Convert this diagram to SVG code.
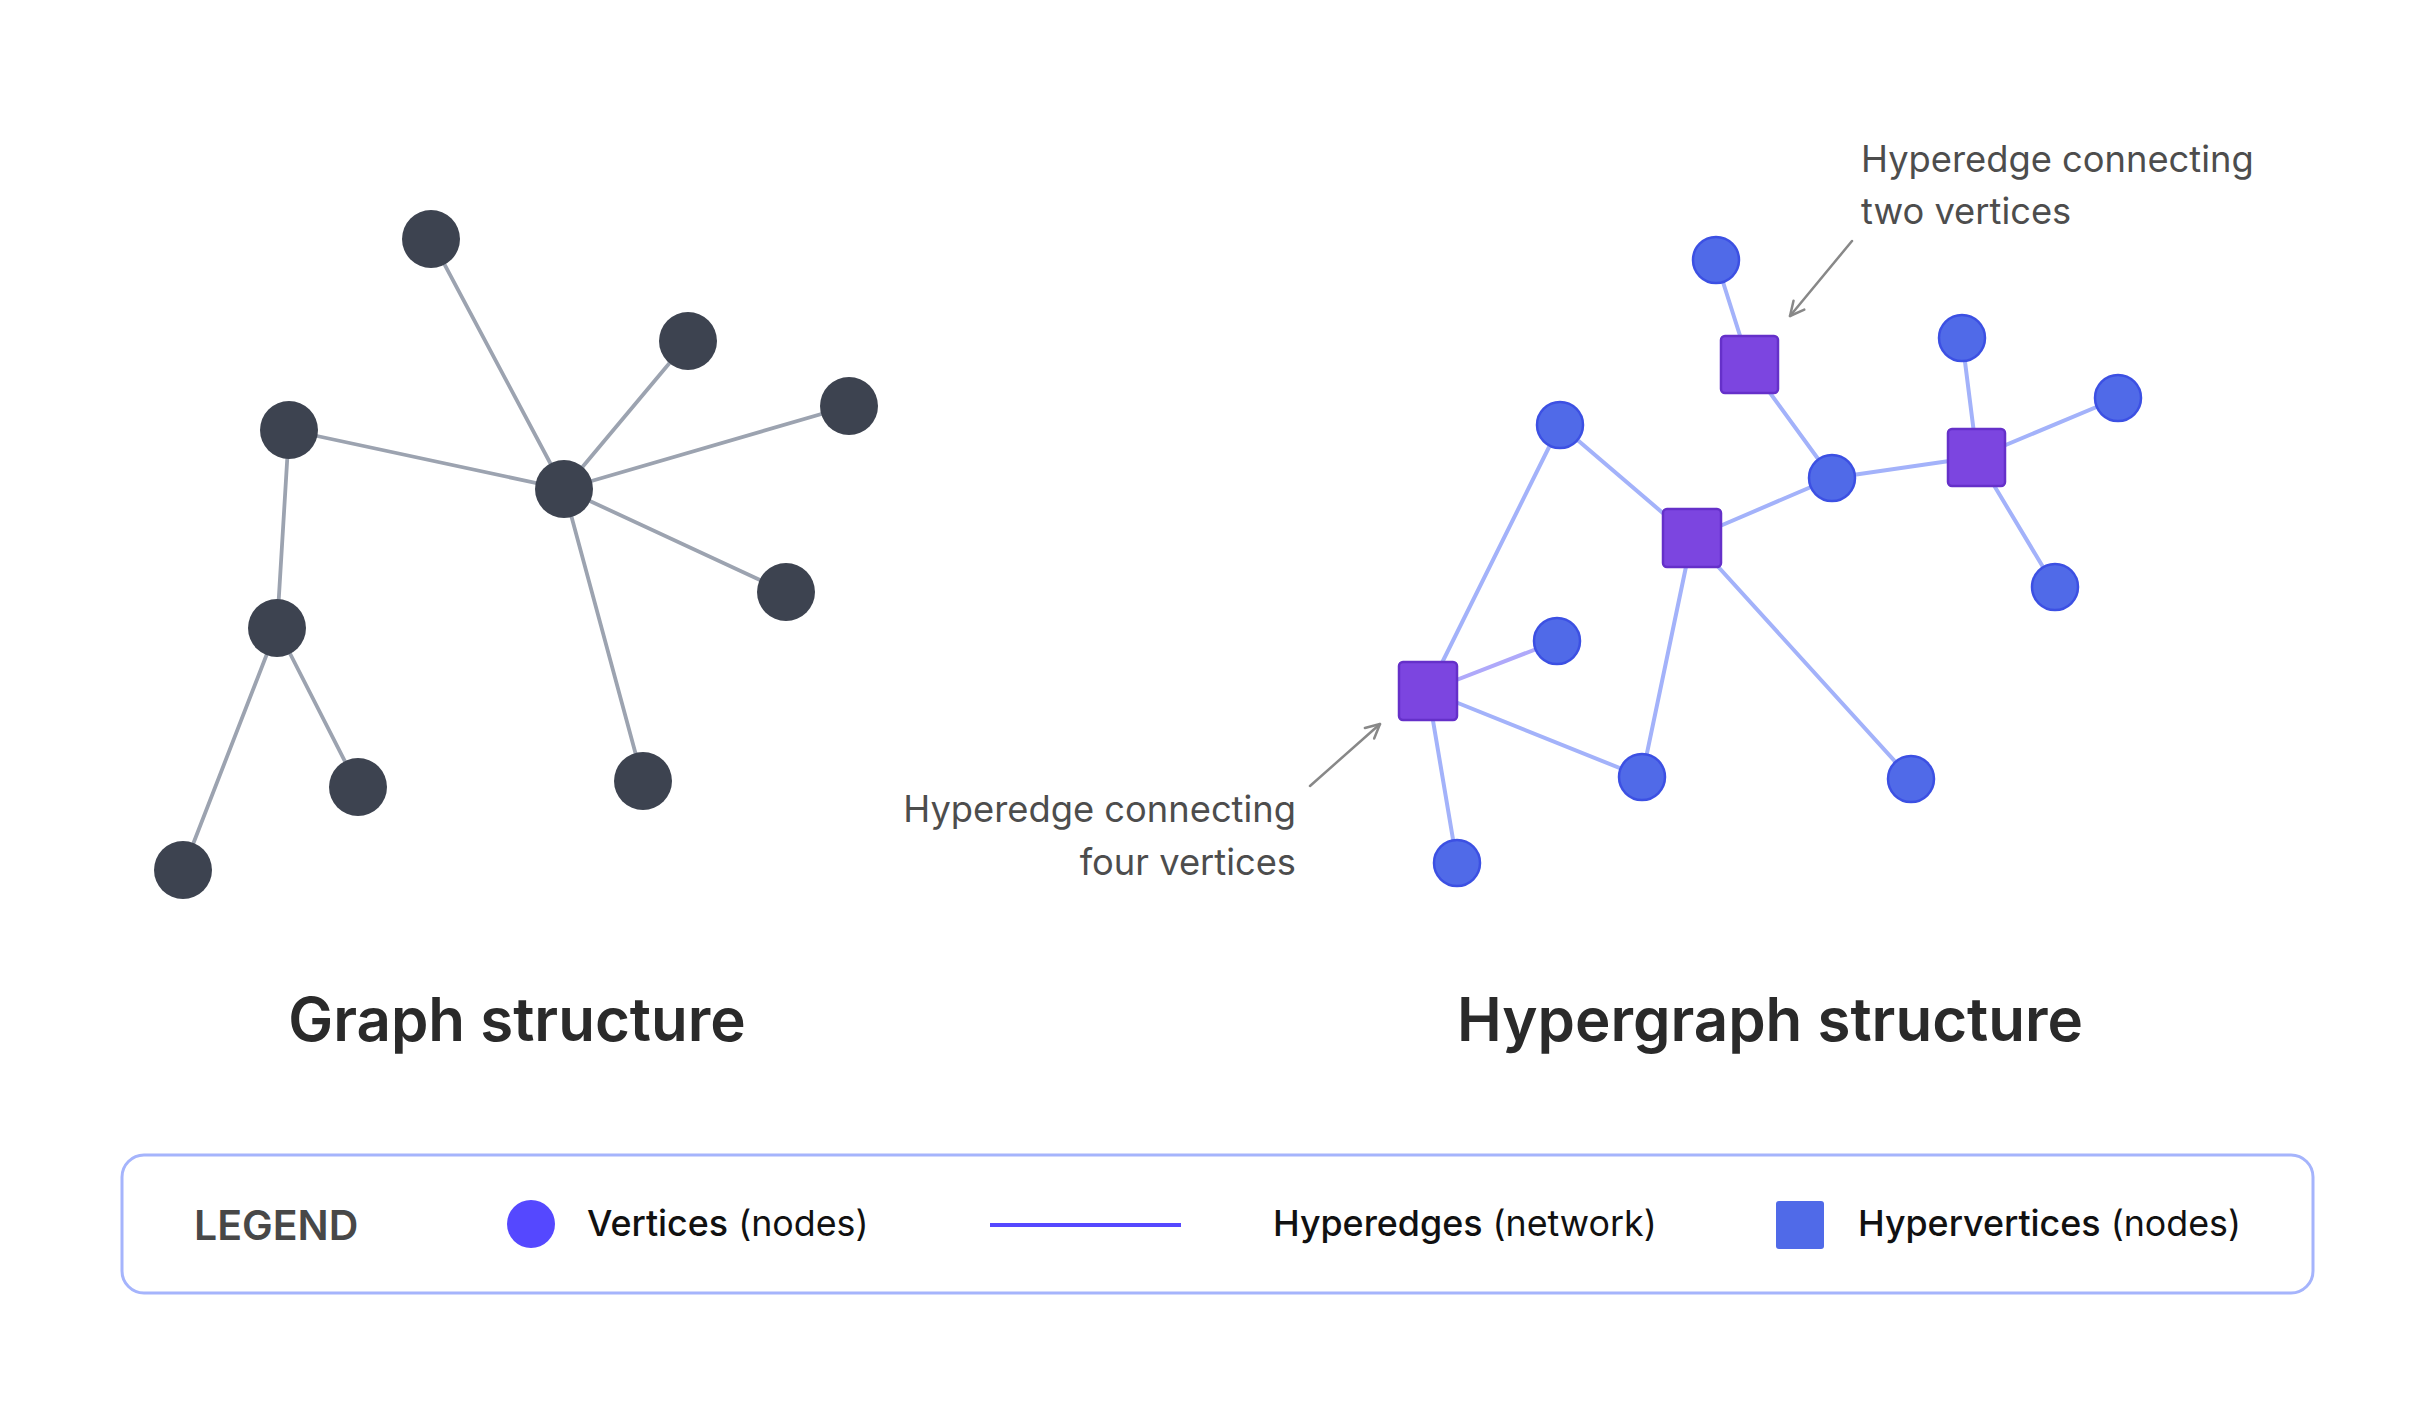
<svg xmlns="http://www.w3.org/2000/svg" width="2436" height="1428" viewBox="0 0 2436 1428">
<defs>
<style>
.gedge{stroke:#9ca3b0;stroke-width:3.8;stroke-linecap:round;fill:none}
.gnode{fill:#3d4350}
.hedge{stroke:#a3b2fa;stroke-width:4;stroke-linecap:round;fill:none}
.vert{fill:#506ae8;stroke:#3c50e3;stroke-width:2.5}
.hv{fill:#7c45e0;stroke:#6530c9;stroke-width:2.5}
.note{font-family:Inter,"Liberation Sans",sans-serif;font-size:36.3px;fill:#4d4d4d}
.title{font-family:Inter,"Liberation Sans",sans-serif;font-size:60px;font-weight:600;fill:#2a2a2a}
.leg{font-family:Inter,"Liberation Sans",sans-serif;font-size:35.8px;fill:#111111}
.arrow{stroke:#888888;stroke-width:2.5;fill:none;stroke-linecap:round;stroke-linejoin:round}
</style>
<marker id="ah" viewBox="0 0 20 20" refX="18" refY="10" markerWidth="20" markerHeight="20" markerUnits="userSpaceOnUse" orient="auto">
<path d="M4,3 L18,10 L4,17" fill="none" stroke="#888888" stroke-width="2.5" stroke-linecap="round" stroke-linejoin="round"/>
</marker>
</defs>
<rect width="2436" height="1428" fill="#ffffff"/>

<g id="graph-connectors">
<line class="gedge" x1="564" y1="489" x2="431" y2="239"/>
<line class="gedge" x1="564" y1="489" x2="688" y2="341"/>
<line class="gedge" x1="564" y1="489" x2="849" y2="406"/>
<line class="gedge" x1="564" y1="489" x2="289" y2="430"/>
<line class="gedge" x1="564" y1="489" x2="786" y2="592"/>
<line class="gedge" x1="564" y1="489" x2="643" y2="781"/>
<line class="gedge" x1="289" y1="430" x2="277" y2="628"/>
<line class="gedge" x1="277" y1="628" x2="358" y2="787"/>
<line class="gedge" x1="277" y1="628" x2="183" y2="870"/>
</g>
<g id="g-n1"><circle class="gnode" cx="431" cy="239" r="29"/></g>
<g id="g-n2"><circle class="gnode" cx="688" cy="341" r="29"/></g>
<g id="g-n3"><circle class="gnode" cx="849" cy="406" r="29"/></g>
<g id="g-n4"><circle class="gnode" cx="289" cy="430" r="29"/></g>
<g id="g-center"><circle class="gnode" cx="564" cy="489" r="29"/></g>
<g id="g-n5"><circle class="gnode" cx="786" cy="592" r="29"/></g>
<g id="g-n6"><circle class="gnode" cx="277" cy="628" r="29"/></g>
<g id="g-n7"><circle class="gnode" cx="358" cy="787" r="29"/></g>
<g id="g-n8"><circle class="gnode" cx="643" cy="781" r="29"/></g>
<g id="g-n9"><circle class="gnode" cx="183" cy="870" r="29"/></g>

<g id="hyper-connectors">
<line class="hedge" x1="1716" y1="260" x2="1749" y2="364"/>
<line class="hedge" x1="1749" y1="364" x2="1832" y2="478"/>
<line class="hedge" x1="1832" y1="478" x2="1692" y2="538"/>
<line class="hedge" x1="1832" y1="478" x2="1977" y2="457"/>
<line class="hedge" x1="1977" y1="457" x2="1962" y2="338"/>
<line class="hedge" x1="1977" y1="457" x2="2118" y2="398"/>
<line class="hedge" x1="1977" y1="457" x2="2055" y2="587"/>
<line class="hedge" x1="1560" y1="425" x2="1692" y2="538"/>
<line class="hedge" x1="1692" y1="538" x2="1642" y2="777"/>
<line class="hedge" x1="1692" y1="538" x2="1911" y2="779"/>
<line class="hedge" x1="1560" y1="425" x2="1428" y2="691"/>
<line class="hedge" x1="1428" y1="691" x2="1557" y2="641" style="stroke:#afa9fa"/>
<line class="hedge" x1="1428" y1="691" x2="1642" y2="777"/>
<line class="hedge" x1="1428" y1="691" x2="1457" y2="863"/>
<line class="arrow" x1="1852" y1="241" x2="1790" y2="316" marker-end="url(#ah)"/>
<line class="arrow" x1="1310" y1="786" x2="1380" y2="724" marker-end="url(#ah)"/>
</g>

<g id="hv1"><rect class="hv" x="1721" y="336" width="57" height="57" rx="4"/></g>
<g id="hv2"><rect class="hv" x="1948" y="429" width="57" height="57" rx="4"/></g>
<g id="hv3"><rect class="hv" x="1663" y="509" width="58" height="58" rx="4"/></g>
<g id="hv4"><rect class="hv" x="1399" y="662" width="58" height="58" rx="4"/></g>

<g id="v1"><circle class="vert" cx="1716" cy="260" r="23"/></g>
<g id="v2"><circle class="vert" cx="1962" cy="338" r="23"/></g>
<g id="v3"><circle class="vert" cx="2118" cy="398" r="23"/></g>
<g id="v4"><circle class="vert" cx="1560" cy="425" r="23"/></g>
<g id="v5"><circle class="vert" cx="1832" cy="478" r="23"/></g>
<g id="v6"><circle class="vert" cx="2055" cy="587" r="23"/></g>
<g id="v7"><circle class="vert" cx="1557" cy="641" r="23"/></g>
<g id="v8"><circle class="vert" cx="1642" cy="777" r="23"/></g>
<g id="v9"><circle class="vert" cx="1911" cy="779" r="23"/></g>
<g id="v10"><circle class="vert" cx="1457" cy="863" r="23"/></g>

<g id="note-two">
<text class="note" x="1861" y="172">Hyperedge connecting</text>
<text class="note" x="1861" y="224">two vertices</text>
</g>
<g id="note-four">
<text class="note" x="1296" y="822" text-anchor="end">Hyperedge connecting</text>
<text class="note" x="1296" y="875" text-anchor="end">four vertices</text>
</g>

<g id="titles">
<text class="title" x="517" y="1041" text-anchor="middle">Graph structure</text>
<text class="title" x="1770" y="1041" text-anchor="middle">Hypergraph structure</text>
</g>

<g id="legend">
<rect x="122" y="1155" width="2191" height="138" rx="22" fill="#ffffff" stroke="#a5b4fc" stroke-width="3"/>
<text x="194" y="1240" style="font-family:Inter,'Liberation Sans',sans-serif;font-size:41px;font-weight:600;fill:#484848">LEGEND</text>
<circle cx="531" cy="1224" r="24" fill="#5548ff"/>
<text class="leg" x="587" y="1236"><tspan font-weight="500">Vertices</tspan> (nodes)</text>
<line x1="990" y1="1225" x2="1181" y2="1225" stroke="#5548ff" stroke-width="4"/>
<text class="leg" x="1273" y="1236"><tspan font-weight="500">Hyperedges</tspan> (network)</text>
<rect x="1776" y="1201" width="48" height="48" rx="3" fill="#506ae8"/>
<text class="leg" x="1858" y="1236"><tspan font-weight="500">Hypervertices</tspan> (nodes)</text>
</g>
</svg>
